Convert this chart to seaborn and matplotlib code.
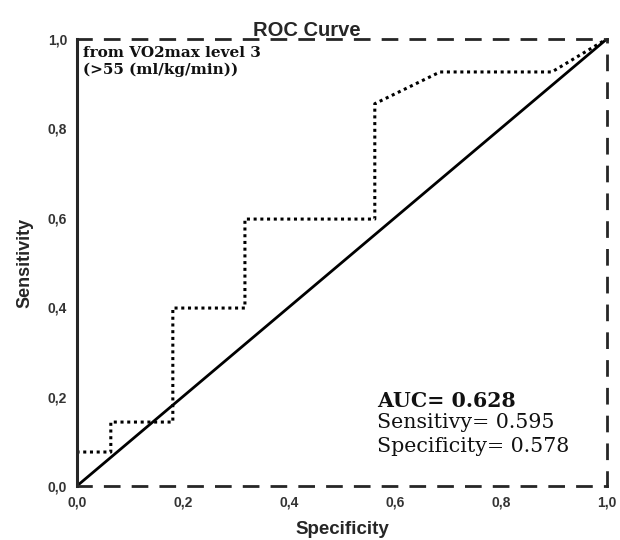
import numpy as np
import pandas as pd
import matplotlib
matplotlib.use('Agg')
import matplotlib.pyplot as plt
import seaborn as sns

# ROC points (x = 1 - specificity style axis labelled "Specificity")
fpr = [0.0, 0.0, 0.064, 0.064, 0.181, 0.181, 0.317, 0.317, 0.562, 0.562, 0.685, 0.896, 1.0]
tpr = [0.0, 0.076, 0.076, 0.143, 0.143, 0.398, 0.398, 0.597, 0.597, 0.855, 0.926, 0.926, 1.0]
ref_x = [0.0, 1.0]
ref_y = [0.0, 1.0]
ticks = [0.0, 0.2, 0.4, 0.6, 0.8, 1.0]
tick_labels = ['0,0', '0,2', '0,4', '0,6', '0,8', '1,0']

sns.set_style('white')
plt.rcParams['font.family'] = ['Liberation Sans', 'DejaVu Sans']

fig = plt.figure(figsize=(6.2, 5.4), dpi=100)
ax = fig.add_axes([0.124, 0.10, 0.855, 0.828])

roc = pd.DataFrame({'x': fpr, 'y': tpr})
ref = pd.DataFrame({'x': ref_x, 'y': ref_y})
sns.lineplot(data=roc, x='x', y='y', ax=ax, sort=False, estimator=None,
             color='black', linewidth=2.2, linestyle=(0, (1, 1.2)))
sns.lineplot(data=ref, x='x', y='y', ax=ax, sort=False, estimator=None,
             color='black', linewidth=2)

ax.set_xlim(0, 1)
ax.set_ylim(0, 1)
ax.set_xticks(ticks)
ax.set_yticks(ticks)
ax.set_xticklabels(tick_labels, fontsize=10, fontweight='bold', color='#333333')
ax.set_yticklabels(tick_labels, fontsize=10, fontweight='bold', color='#333333')
ax.tick_params(direction='out', length=6, width=2, color='black', pad=1)

# frame: solid left, dashed elsewhere
ax.spines['left'].set_linewidth(2.2)
for side in ['top', 'right', 'bottom']:
    ax.spines[side].set_linewidth(2)
    ax.spines[side].set_linestyle((0, (5, 5)))

ax.set_xlabel('Specificity', fontsize=13.5, fontweight='bold', labelpad=8)
ax.set_ylabel('Sensitivity', fontsize=13, fontweight='bold', labelpad=10)
fig.suptitle('ROC Curve', x=0.495, y=0.962, fontsize=14.5, fontweight='bold')

ax.text(0.012, 0.985, 'from VO2max level 3\n(>55 (ml/kg/min))', transform=ax.transAxes,
        ha='left', va='top', fontsize=11, family='DejaVu Serif',
        fontweight='bold', linespacing=1.3, color='#111111')

ax.text(0.566, 0.19, 'AUC= 0.628', transform=ax.transAxes, ha='left', va='center',
        fontsize=14.8, family='DejaVu Serif', fontweight='bold', color='#111111')
ax.text(0.566, 0.141, 'Sensitivy= 0.595', transform=ax.transAxes, ha='left', va='center',
        fontsize=14.8, family='DejaVu Serif', color='#111111')
ax.text(0.566, 0.089, 'Specificity= 0.578', transform=ax.transAxes, ha='left', va='center',
        fontsize=14.8, family='DejaVu Serif', color='#111111')

fig.savefig('out.png', dpi=100, facecolor='white')
